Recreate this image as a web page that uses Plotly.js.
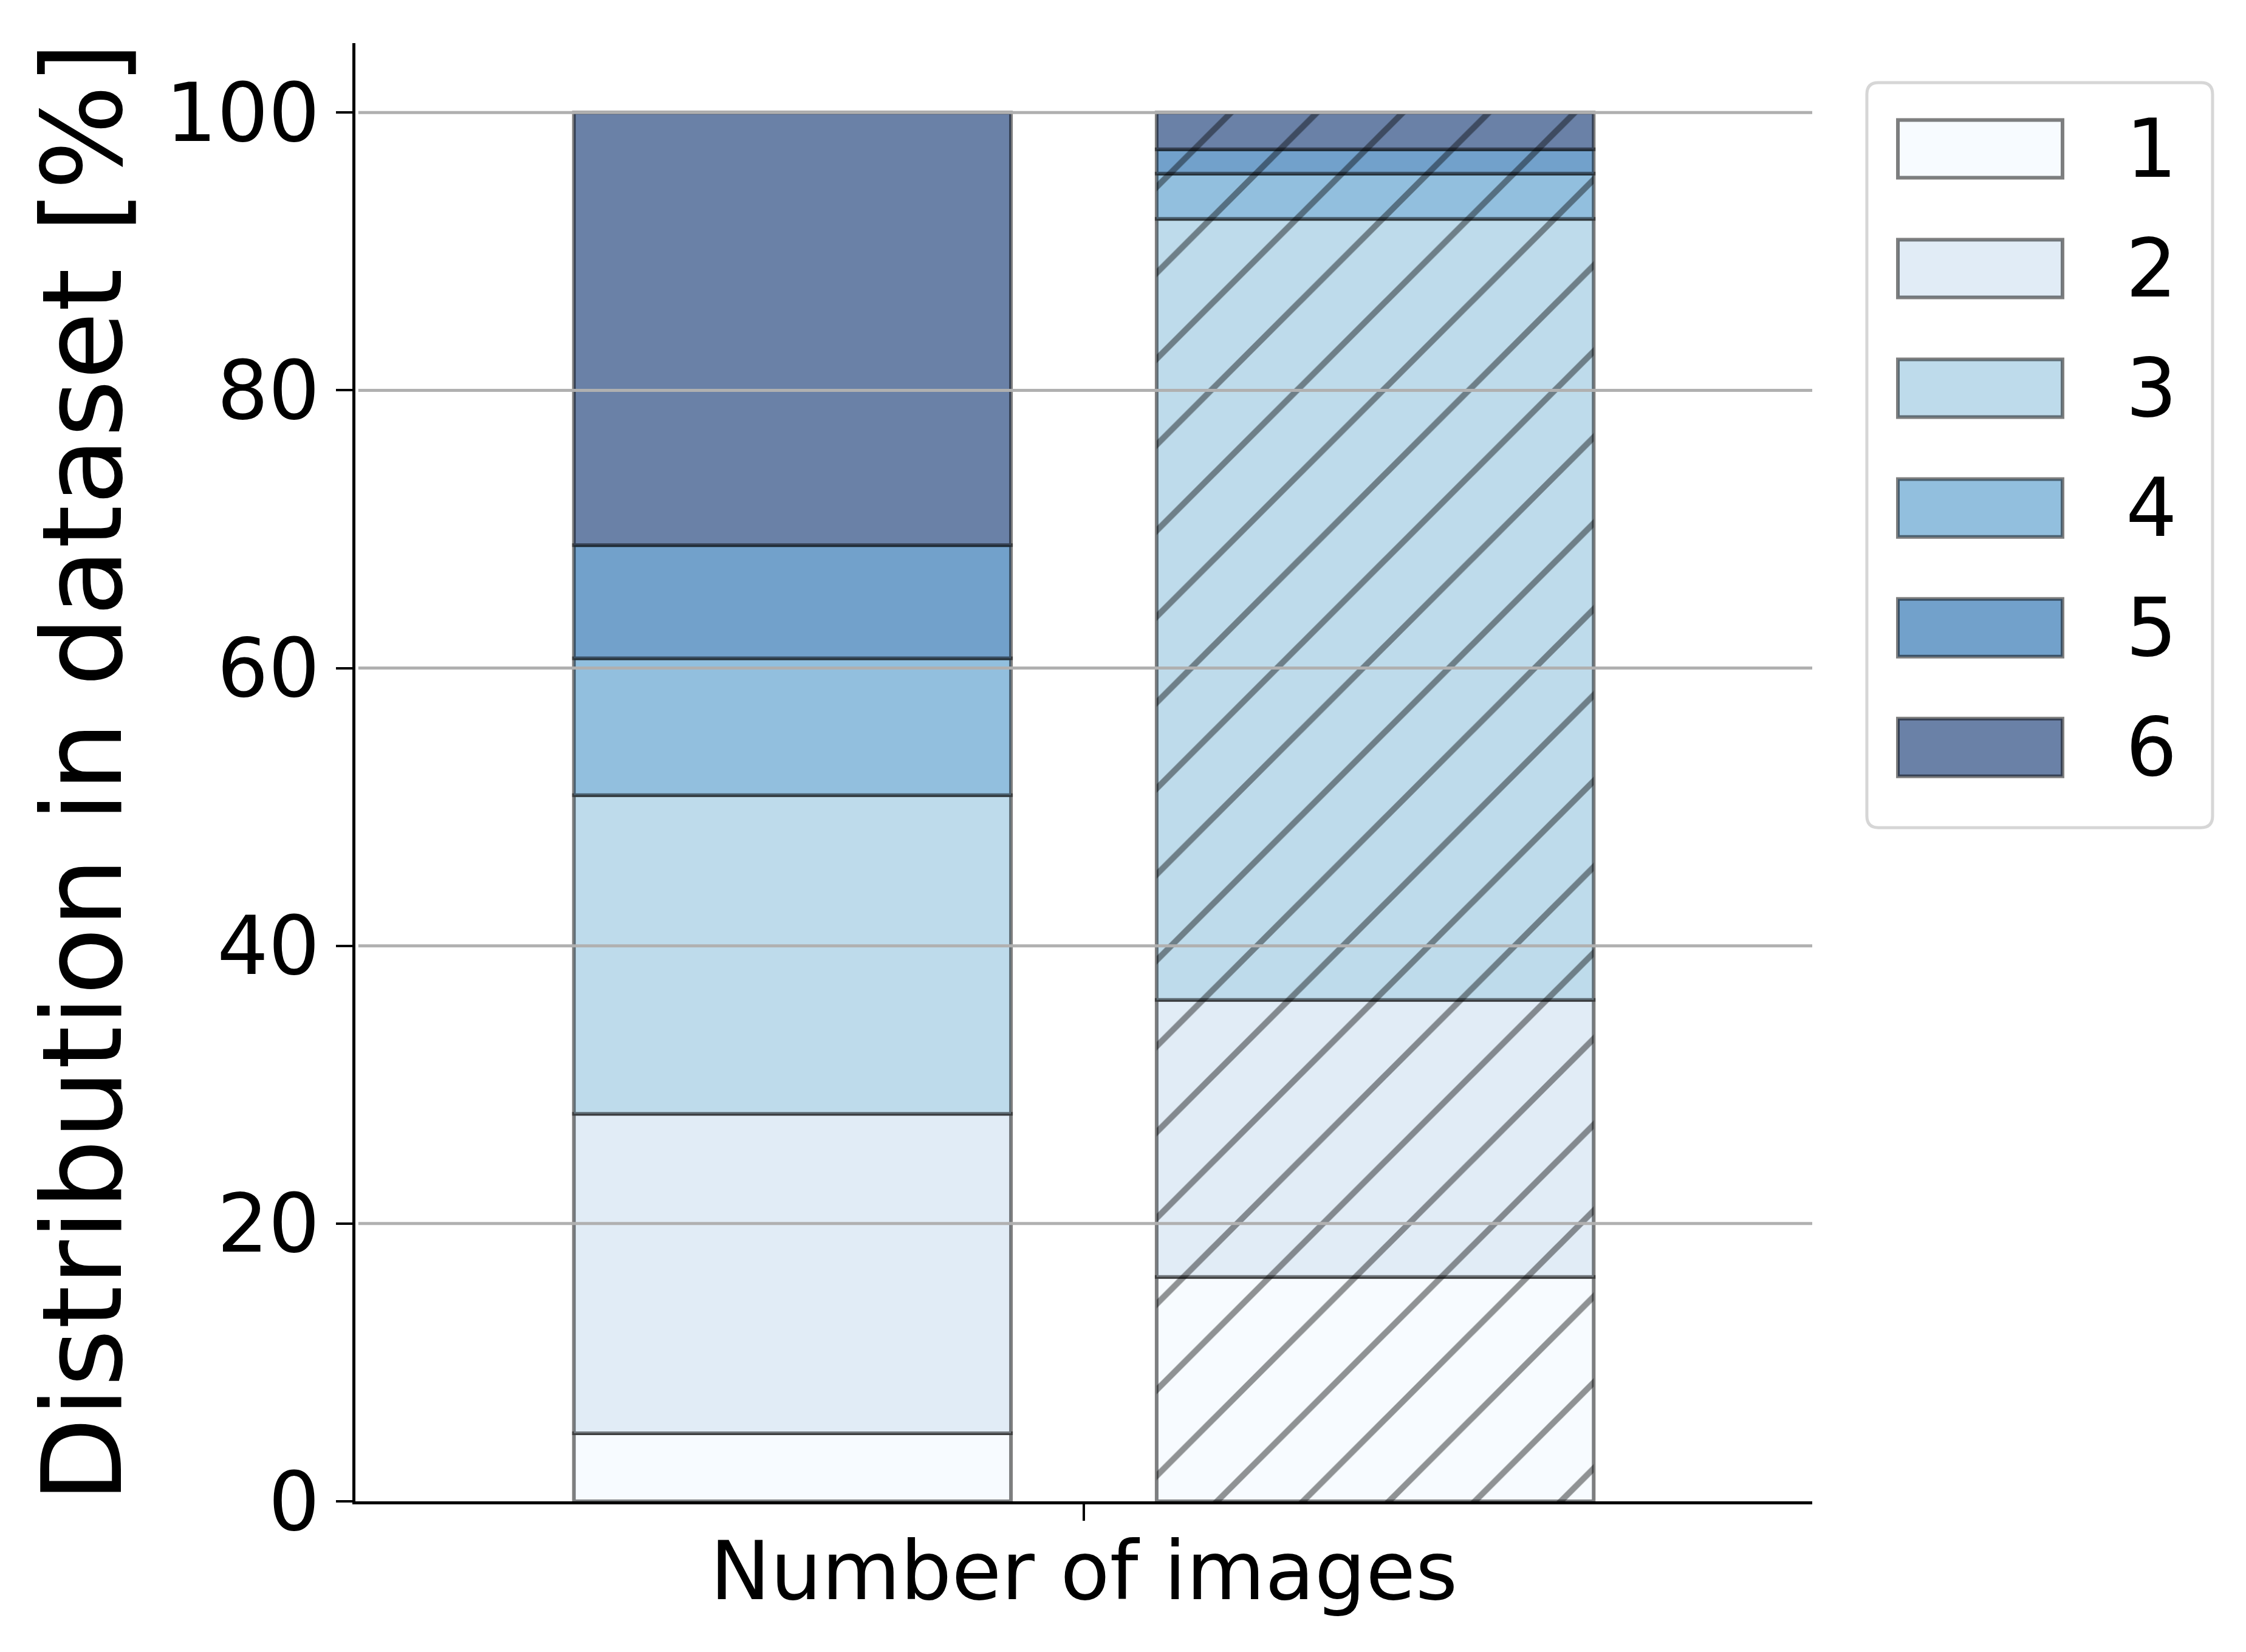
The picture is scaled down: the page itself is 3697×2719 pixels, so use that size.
<!DOCTYPE html>
<html>
<head>
<meta charset="utf-8">
<script src="https://cdn.plot.ly/plotly-3.0.1.min.js"></script>
<style>
  html, body { margin: 0; padding: 0; background: #ffffff; }
  #chart { width: 3697px; height: 2719px; }
</style>
</head>
<body>
<div id="chart"></div>
<script>
const CATEGORY = "Number of images";
const CLASSES = ["1", "2", "3", "4", "5", "6"];
// share of each class in percent, bottom to top
const SHARE_PLAIN = [4.9, 23.0, 22.95, 9.85, 8.15, 31.15];
const SHARE_HATCHED = [16.15, 19.95, 56.25, 3.25, 1.75, 2.65];
const Y_TICKS = [0, 20, 40, 60, 80, 100];

const CLASS_COLORS = ["#f7fbff", "#e1ecf6", "#bedbeb", "#92bfde", "#72a1cb", "#6a81a7"];
const EDGE = "rgba(0, 0, 0, 0.5)";
const GRID = "#b0b0b0";
const FONT = "DejaVu Sans, Verdana, sans-serif";

function cumulativeBase(values) {
  let total = 0;
  return values.map((value) => {
    const base = total;
    total += value;
    return base;
  });
}

function makeStack(values, hatched) {
  const bases = cumulativeBase(values);
  return values.map((value, index) => {
    const marker = {
      color: CLASS_COLORS[index],
      line: { color: EDGE, width: 6 },
    };
    if (hatched) {
      marker.pattern = {
        shape: "/",
        size: 100,
        solidity: 0.1,
        bgcolor: CLASS_COLORS[index],
        fgcolor: "#000000",
        fgopacity: 0.42,
      };
    }
    return {
      type: "bar",
      x: [CATEGORY],
      y: [value],
      base: [bases[index]],
      width: 0.3,
      offset: hatched ? 0.05 : -0.35,
      marker,
      name: CLASSES[index],
      showlegend: false,
      hoverinfo: "skip",
    };
  });
}

function makeGridShapes() {
  return Y_TICKS.filter((tick) => tick > 0).map((tick) => ({
    type: "line",
    xref: "paper",
    yref: "y",
    x0: 0.002,
    x1: 1,
    y0: tick,
    y1: tick,
    line: { color: GRID, width: 5 },
    layer: "above",
  }));
}

// hand-built legend so the swatches are as large as in the original
const LEGEND_BOX = { x0: 1.0375, x1: 1.2748, y0: 0.462, y1: 0.9729 };
const LEGEND_TOP = 0.9275;
const LEGEND_STEP = 0.0821;

function roundedBox(box, r) {
  const { x0, x1, y0, y1 } = box;
  return (
    `M${x0 + r},${y0} L${x1 - r},${y0} Q${x1},${y0} ${x1},${y0 + r} ` +
    `L${x1},${y1 - r} Q${x1},${y1} ${x1 - r},${y1} ` +
    `L${x0 + r},${y1} Q${x0},${y1} ${x0},${y1 - r} ` +
    `L${x0},${y0 + r} Q${x0},${y0} ${x0 + r},${y0} Z`
  );
}

function makeLegendShapes() {
  const frame = {
    type: "path",
    xref: "paper",
    yref: "paper",
    path: roundedBox(LEGEND_BOX, 0.008),
    fillcolor: "#ffffff",
    line: { color: "#d6d6d6", width: 5 },
    layer: "above",
  };
  const swatches = CLASSES.map((label, index) => {
    const yc = LEGEND_TOP - index * LEGEND_STEP;
    return {
      type: "rect",
      xref: "paper",
      yref: "paper",
      x0: 1.0588,
      x1: 1.1718,
      y0: yc - 0.0198,
      y1: yc + 0.0198,
      fillcolor: CLASS_COLORS[index],
      line: { color: EDGE, width: 6 },
      layer: "above",
    };
  });
  return [frame, ...swatches];
}

function makeLegendLabels() {
  return CLASSES.map((label, index) => ({
    xref: "paper",
    yref: "paper",
    x: 1.2331,
    y: LEGEND_TOP - index * LEGEND_STEP,
    xanchor: "center",
    yanchor: "middle",
    text: label,
    showarrow: false,
    font: { family: FONT, size: 133, color: "#000000" },
  }));
}

const traces = [...makeStack(SHARE_PLAIN, false), ...makeStack(SHARE_HATCHED, true)];

const layout = {
  width: 3697,
  height: 2719,
  paper_bgcolor: "#ffffff",
  plot_bgcolor: "#ffffff",
  margin: { l: 585, r: 714, t: 71, b: 248 },
  barmode: "overlay",
  showlegend: false,
  font: { family: FONT, color: "#000000" },
  xaxis: {
    type: "category",
    range: [-0.5, 0.5],
    showline: true,
    linecolor: "#000000",
    linewidth: 5,
    ticks: "outside",
    ticklen: 27,
    tickwidth: 4,
    tickcolor: "#000000",
    ticklabelstandoff: -31,
    tickfont: { family: FONT, size: 133, color: "#000000" },
    showgrid: false,
    zeroline: false,
  },
  yaxis: {
    range: [0, 105],
    tickvals: Y_TICKS,
    showline: true,
    linecolor: "#000000",
    linewidth: 5,
    ticks: "outside",
    ticklen: 27,
    tickwidth: 4,
    tickcolor: "#000000",
    tickfont: { family: FONT, size: 133, color: "#000000" },
    showgrid: false,
    zeroline: false,
    title: {
      text: "Distribution in dataset [%]",
      font: { family: FONT, size: 182, color: "#000000" },
      standoff: 12,
    },
  },
  shapes: [...makeGridShapes(), ...makeLegendShapes()],
  annotations: makeLegendLabels(),
};

Plotly.newPlot("chart", traces, layout, { displayModeBar: false, staticPlot: true });
</script>
</body>
</html>
